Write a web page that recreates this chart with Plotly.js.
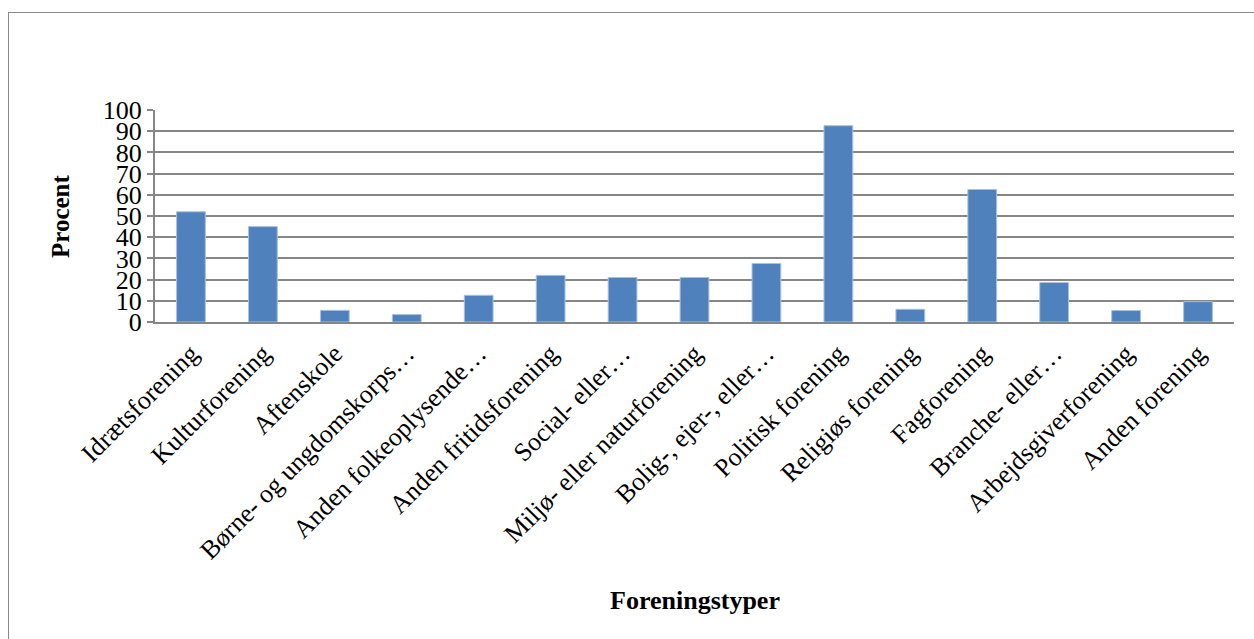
<!DOCTYPE html>
<html>
<head>
<meta charset="utf-8">
<script src="https://cdn.plot.ly/plotly-3.0.1.min.js"></script>
<style>
  html, body { margin: 0; padding: 0; background: #fff; }
  #wrap { position: relative; width: 1254px; height: 639px; }
  #chart { width: 1254px; height: 639px; }
  #frame { position: absolute; left: 8px; top: 12px; width: 1300px; height: 700px;
           border-left: 1.5px solid #8a8a8a; border-top: 1.5px solid #8a8a8a; pointer-events: none; }
</style>
</head>
<body>
<div id="wrap">
  <div id="chart"></div>
  <div id="frame"></div>
</div>
<script>
const categories = [
  "Idrætsforening",
  "Kulturforening",
  "Aftenskole",
  "Børne- og ungdomskorps…",
  "Anden folkeoplysende…",
  "Anden fritidsforening",
  "Social- eller…",
  "Miljø- eller naturforening",
  "Bolig-, ejer-, eller…",
  "Politisk forening",
  "Religiøs forening",
  "Fagforening",
  "Branche- eller…",
  "Arbejdsgiverforening",
  "Anden forening"
];
const percent = [52, 45, 5.5, 3.5, 12.6, 22, 21, 21, 27.6, 92.6, 6, 62.5, 18.6, 5.4, 9.6];
const yTickValues = [0, 10, 20, 30, 40, 50, 60, 70, 80, 90, 100];
const xTitle = "Foreningstyper";
const yTitle = "Procent";

const serif = "Liberation Serif, Times New Roman, serif";

const trace = {
  type: "bar",
  x: categories,
  y: percent,
  marker: { color: "#4f81bd", line: { color: "#a9c1e0", width: 1 } },
  hoverinfo: "x+y"
};

const layout = {
  width: 1254,
  height: 639,
  margin: { l: 155, r: 20, t: 110, b: 317 },
  paper_bgcolor: "#ffffff",
  plot_bgcolor: "#ffffff",
  bargap: 0.6,
  showlegend: false,
  font: { family: serif, color: "#000" },
  xaxis: {
    type: "category",
    tickangle: -45,
    tickfont: { family: serif, size: 26, color: "#000" },
    showline: true,
    linecolor: "#868686",
    linewidth: 2,
    showgrid: false,
    ticks: "",
    ticklabelstandoff: 4,
    automargin: false,
    fixedrange: true
  },
  yaxis: {
    range: [0, 100],
    tickvals: yTickValues,
    ticktext: yTickValues.map(String),
    tickfont: { family: serif, size: 26, color: "#000" },
    showgrid: true,
    gridcolor: "#868686",
    gridwidth: 2,
    showline: true,
    linecolor: "#868686",
    linewidth: 2,
    ticks: "outside",
    ticklen: 6,
    tickcolor: "#868686",
    tickwidth: 2,
    zeroline: false,
    automargin: false,
    fixedrange: true
  },
  annotations: [
    {
      text: "<b>" + xTitle + "</b>",
      xref: "paper", yref: "paper",
      x: 0.5, y: 0, yshift: -278,
      xanchor: "center", yanchor: "middle",
      showarrow: false,
      font: { family: serif, size: 26, color: "#000" }
    },
    {
      text: "<b>" + yTitle + "</b>",
      xref: "paper", yref: "paper",
      x: 0, xshift: -95, y: 0.5,
      xanchor: "center", yanchor: "middle",
      textangle: -90,
      showarrow: false,
      font: { family: serif, size: 25, color: "#000" }
    }
  ]
};

Plotly.newPlot("chart", [trace], layout, { displayModeBar: false, staticPlot: true });
</script>
</body>
</html>
